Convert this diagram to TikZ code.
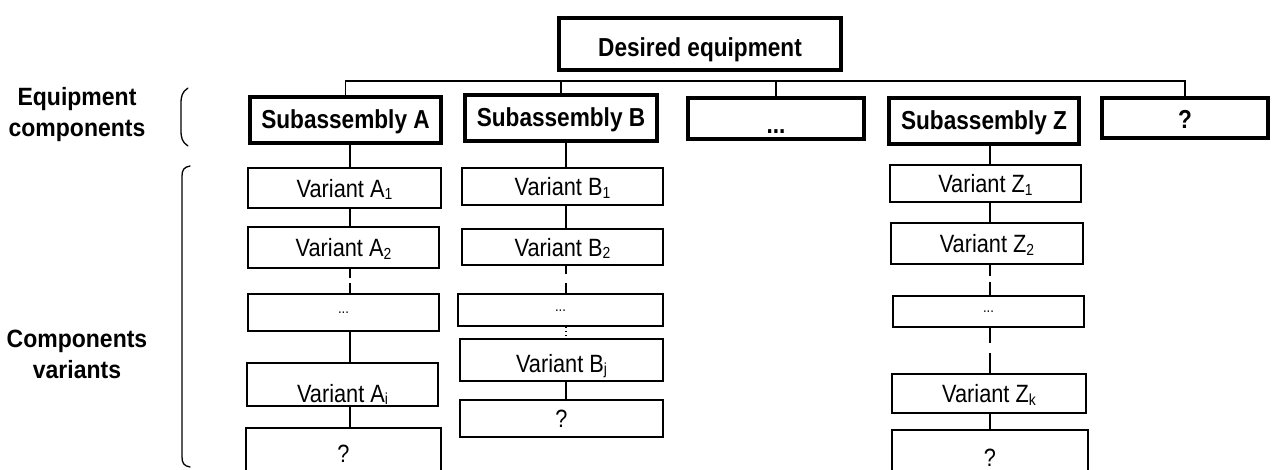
\documentclass[tikz,border=0pt]{standalone}
\usepackage{fontspec}
\setmainfont{Liberation Sans}
\newfontfamily\narrowbf[FakeStretch=0.87]{Liberation Sans Bold}
\newfontfamily\sidebf[FakeStretch=0.92]{Liberation Sans Bold}
\newfontfamily\narrowrm[FakeStretch=0.87]{Liberation Sans}
\newcommand\vsub[1]{\raisebox{-2.5pt}{\fontsize{16}{16}\selectfont #1}}
\begin{document}
\begin{tikzpicture}[x=1pt,y=-1pt,
  topbox/.style={draw, line width=4pt, inner sep=0pt, font=\narrowbf\fontsize{26}{30}\selectfont, text height=19pt, text depth=3pt},
  varbox/.style={draw, line width=1.8pt, inner sep=0pt, font=\narrowrm\fontsize{25}{30}\selectfont, text height=20pt, text depth=2pt},
  vdots/.style={varbox, font=\narrowrm\fontsize{15}{15}\selectfont, text height=2pt, text depth=0pt},
  conn/.style={line width=1.3pt},
  sidelabel/.style={align=center, inner sep=0pt, font=\sidebf\fontsize{25}{31}\selectfont},
  brace/.style={line width=1.3pt, line cap=round}]
\useasboundingbox (0,0) rectangle (1272,469);
\clip (0,0) rectangle (1272,469);
\fill[white] (0,0) rectangle (1272,469);

% top
\node[topbox, minimum width=282pt, minimum height=52pt, text height=27pt] (de) at (700,44) {Desired equipment};

% subassemblies
\node[topbox, minimum width=191pt, minimum height=46pt] (sa) at (345.5,120) {Subassembly A};
\node[topbox, minimum width=192pt, minimum height=46pt] (sb) at (561,118) {Subassembly B};
\node[topbox, minimum width=176pt, minimum height=41pt, text height=31pt, text depth=2pt] (sd) at (776,118.5) {...};
\node[topbox, minimum width=190pt, minimum height=46pt] (sz) at (984,121) {Subassembly Z};
\node[topbox, minimum width=166pt, minimum height=40pt, text height=21pt, text depth=1pt] (sq) at (1185,118) {?};

% bus
\coordinate (bus) at (0,81);
\draw[conn] (sa.north) -- (sa.north |- bus) -- (sq.north |- bus) -- (sq.north);
\draw[conn] (sb.north) -- (sb.north |- bus);
\draw[conn] (sd.north) -- (sd.north |- bus);

% column x positions
\coordinate (xa) at (350,0);
\coordinate (xb) at (566,0);
\coordinate (xz) at (990,0);

% column A
\node[varbox, minimum width=193pt, minimum height=40pt] (a1) at (344.5,188) {Variant A\vsub{1}};
\node[varbox, minimum width=191pt, minimum height=41pt] (a2) at (343.5,247.5) {Variant A\vsub{2}};
\node[vdots, minimum width=191pt, minimum height=37pt] (a3) at (343.5,312.5) {...};
\node[varbox, minimum width=191pt, minimum height=43pt, text height=37pt] (ai) at (342.5,384.5) {Variant A\vsub{i}};
\node[varbox, minimum width=195pt, minimum height=50pt] (aq) at (343.5,453) {?};

\draw[conn] (sa.south -| xa) -- (a1.north -| xa);
\draw[conn] (a1.south -| xa) -- (a2.north -| xa);
\draw[conn, dash pattern=on 9pt off 5pt on 20pt] (a2.south -| xa) -- (a3.north -| xa);
\draw[conn] (a3.south -| xa) -- (ai.north -| xa);
\draw[conn] (ai.south -| xa) -- (aq.north -| xa);

% column B
\node[varbox, minimum width=201pt, minimum height=37pt] (b1) at (562.5,186.5) {Variant B\vsub{1}};
\node[varbox, minimum width=201pt, minimum height=36pt] (b2) at (562.5,247) {Variant B\vsub{2}};
\node[vdots, minimum width=205pt, minimum height=32pt] (b3) at (560.5,310) {...};
\node[varbox, minimum width=203pt, minimum height=42pt, text height=26pt] (bj) at (561.5,360) {Variant B\vsub{j}};
\node[varbox, minimum width=203pt, minimum height=37pt] (bq) at (561.5,418.5) {?};

\draw[conn] (sb.south -| xb) -- (b1.north -| xb);
\draw[conn] (b1.south -| xb) -- (b2.north -| xb);
\draw[conn, dash pattern=on 8pt off 9pt on 20pt] (b2.south -| xb) -- (b3.north -| xb);
\draw[conn, dash pattern=on 1.5pt off 2.5pt] (b3.south -| xb) -- (bj.north -| xb);
\draw[conn] (bj.south -| xb) -- (bq.north -| xb);

% column Z
\node[varbox, minimum width=191pt, minimum height=37pt] (z1) at (985.5,183.5) {Variant Z\vsub{1}};
\node[varbox, minimum width=192pt, minimum height=41pt] (z2) at (987,243.5) {Variant Z\vsub{2}};
\node[vdots, minimum width=191pt, minimum height=31pt] (z3) at (988.5,311.5) {...};
\node[varbox, minimum width=194pt, minimum height=39pt] (zk) at (989,393.5) {Variant Z\vsub{k}};
\node[varbox, minimum width=196pt, minimum height=54pt] (zq) at (990,457) {?};

\draw[conn] (sz.south -| xz) -- (z1.north -| xz);
\draw[conn] (z1.south -| xz) -- (z2.north -| xz);
\draw[conn, dash pattern=on 11pt off 6pt on 20pt] (z2.south -| xz) -- (z3.north -| xz);
\draw[conn, dash pattern=on 15pt off 10pt on 30pt] (z3.south -| xz) -- (zk.north -| xz);
\draw[conn] (zk.south -| xz) -- (zq.north -| xz);

% side labels
\node[sidelabel] (l1) at (77,115) {Equipment\\components};
\node[sidelabel] (l2) at (77,354) {Components\\variants};

% braces
\draw[brace] (188,88) .. controls (182,92) and (181,96) .. (181,104) -- (181,130) .. controls (181,138) and (182,142) .. (188,146);
\draw[brace] (190,166) .. controls (184,167) and (182,170) .. (182,176) -- (182,457) .. controls (182,463) and (184,466) .. (190,467);
\end{tikzpicture}
\end{document}
